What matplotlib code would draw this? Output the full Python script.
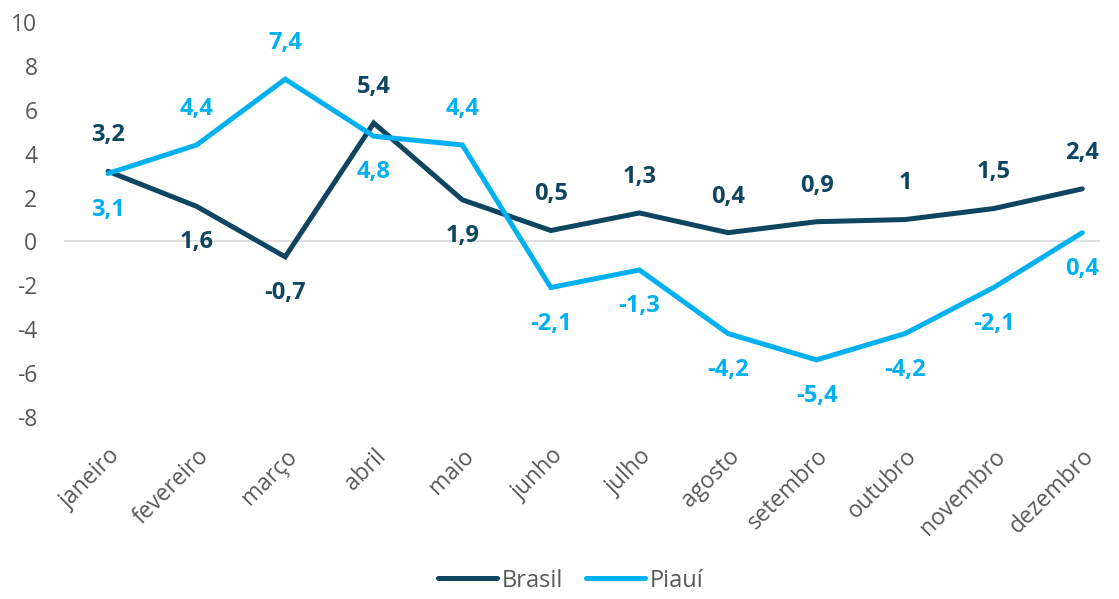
import matplotlib
matplotlib.use("Agg")
from matplotlib import pyplot as plt

meses = ["janeiro", "fevereiro", "março", "abril", "maio", "junho",
         "julho", "agosto", "setembro", "outubro", "novembro", "dezembro"]
brasil = [3.2, 1.6, -0.7, 5.4, 1.9, 0.5, 1.3, 0.4, 0.9, 1.0, 1.5, 2.4]
piaui = [3.1, 4.4, 7.4, 4.8, 4.4, -2.1, -1.3, -4.2, -5.4, -4.2, -2.1, 0.4]
# label side: 1 = above the point, -1 = below
brasil_pos = [1, -1, -1, 1, -1, 1, 1, 1, 1, 1, 1, 1]
piaui_pos = [-1, 1, 1, -1, 1, -1, -1, -1, -1, -1, -1, -1]

COR_BR = "#0E4560"
COR_PI = "#00B0F0"
CINZA = "#595959"

plt.rcParams["font.family"] = ["Open Sans", "DejaVu Sans"]
plt.rcParams["axes.unicode_minus"] = False

fig = plt.figure(figsize=(11.19, 5.99), dpi=100)
ax = fig.add_axes([0.057, 0.304, 0.926, 0.659])

x = list(range(len(meses)))
ax.axhline(0, color="#D9D9D9", lw=1.2, zorder=1)
ax.plot(x, brasil, color=COR_BR, lw=3.6, label="Brasil",
        solid_capstyle="round", solid_joinstyle="miter", zorder=3)
ax.plot(x, piaui, color=COR_PI, lw=3.6, label="Piauí",
        solid_capstyle="round", solid_joinstyle="miter", zorder=4)


def fmt(v):
    s = ("%.1f" % v).replace(".", ",")
    if s.endswith(",0"):
        s = s[:-2]
    return s


for serie, lados, cor in ((brasil, brasil_pos, COR_BR),
                          (piaui, piaui_pos, COR_PI)):
    for i, (v, lado) in enumerate(zip(serie, lados)):
        ax.annotate(fmt(v), (i, v), xytext=(0, 26 * lado),
                    textcoords="offset points", ha="center", va="center",
                    fontsize=17, fontweight="bold", color=cor)

ax.set_ylim(-8, 10)
ax.set_yticks(range(-8, 11, 2))
ax.set_xlim(-0.5, 11.2)
ax.set_xticks(x)
ax.set_xticklabels(meses, rotation=45, ha="right", rotation_mode="anchor")
ax.tick_params(axis="both", length=0, labelsize=16.5, colors=CINZA)
ax.tick_params(axis="x", pad=20)
ax.tick_params(axis="y", pad=19)
for s in ax.spines.values():
    s.set_visible(False)

leg = fig.legend(loc="lower center", bbox_to_anchor=(0.51, -0.025), ncol=2,
                 frameon=False, fontsize=17, handlelength=2.5,
                 columnspacing=1.0, handletextpad=0.2)
for t in leg.get_texts():
    t.set_color(CINZA)

fig.savefig("out.png", dpi=100)
